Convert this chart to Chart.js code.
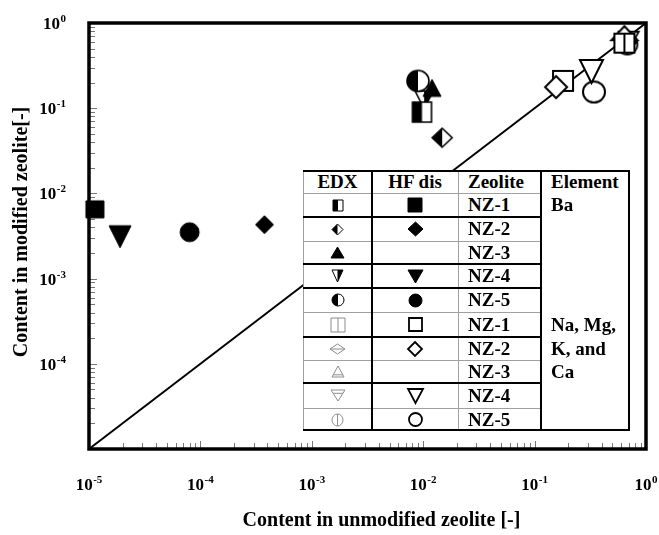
<!DOCTYPE html>
<html><head><meta charset="utf-8">
<script src="https://cdn.jsdelivr.net/npm/chart.js@4.4.0/dist/chart.umd.min.js"></script>
<style>
html,body{margin:0;padding:0;background:#fff;}
#wrap{position:relative;width:659px;height:535px;overflow:hidden;}
#c{position:absolute;left:0;top:0;}
#legendBox{position:absolute;left:303px;top:170px;width:327px;height:261px;background:#fff;
  font-family:'Liberation Serif','Times New Roman',serif;font-weight:bold;font-size:19px;color:#000;}
#legendBox .ln{position:absolute;}
#legendBox .tx{position:absolute;white-space:nowrap;}
#legendBox canvas{position:absolute;}
</style></head>
<body><div id="wrap"><canvas id="c" width="659" height="535"></canvas><div id="legendBox"></div></div>
<script>
// ---------------- data ----------------
// HF dissolution, Ba   [x = unmodified, y = modified]
const hfBaNZ1 = [[1.13e-5, 6.5e-3]];
const hfBaNZ2 = [[3.76e-4, 4.3e-3]];
const hfBaNZ4 = [[1.9e-5, 3.1e-3]];
const hfBaNZ5 = [[8.0e-5, 3.5e-3]];
// EDX, Ba
const edxBaNZ1 = [[9.75e-3, 0.090]];
const edxBaNZ2 = [[0.0148, 0.045]];
const edxBaNZ3 = [[0.012, 0.173]];
const edxBaNZ4 = [[0.0102, 0.125]];
const edxBaNZ5 = [[8.97e-3, 0.209]];
// HF dissolution, Na, Mg, K and Ca
const hfNaNZ1 = [[0.18, 0.209]];
const hfNaNZ2 = [[0.156, 0.177]];
const hfNaNZ4 = [[0.324, 0.27]];
const hfNaNZ5 = [[0.341, 0.155]];
// EDX, Na, Mg, K and Ca
const edxNaNZ1 = [[0.64, 0.58]];
const edxNaNZ2 = [[0.66, 0.60]];
const edxNaNZ3 = [[0.64, 0.76]];
const edxNaNZ4 = [[0.70, 0.62]];
const edxNaNZ5 = [[0.68, 0.56]];
// y = x reference line
const parityLine = [[1e-5, 1e-5], [1, 1]];

// axes / ticks
const axisMin = 1e-5, axisMax = 1;
const xTickExps = [-5, -4, -3, -2, -1, 0];
const xTickExpText = ['-5', '-4', '-3', '-2', '-1', '0'];
const yTickExps = [-4, -3, -2, -1, 0];
const yTickExpText = ['-4', '-3', '-2', '-1', '0'];
const tickBase = '10';
const xTitle = 'Content in unmodified zeolite [-]';
const yTitle = 'Content in modified zeolite[-]';

// legend table
const legendHeaders = ['EDX', 'HF dis', 'Zeolite', 'Element'];
const legendZeolites = ['NZ-1', 'NZ-2', 'NZ-3', 'NZ-4', 'NZ-5', 'NZ-1', 'NZ-2', 'NZ-3', 'NZ-4', 'NZ-5'];
const legendElements = ['Ba', '', '', '', '', 'Na, Mg,', 'K, and', 'Ca', '', ''];

// ---------------- marker drawing ----------------
function pathShape(ctx, shape, cx, cy, w, h) {
  const hw = w / 2, hh = h / 2;
  ctx.beginPath();
  if (shape === 'square') ctx.rect(cx - hw, cy - hh, w, h);
  else if (shape === 'diamond') { ctx.moveTo(cx, cy - hh); ctx.lineTo(cx + hw, cy); ctx.lineTo(cx, cy + hh); ctx.lineTo(cx - hw, cy); ctx.closePath(); }
  else if (shape === 'triUp') { ctx.moveTo(cx, cy - hh); ctx.lineTo(cx + hw, cy + hh); ctx.lineTo(cx - hw, cy + hh); ctx.closePath(); }
  else if (shape === 'triDown') { ctx.moveTo(cx - hw, cy - hh); ctx.lineTo(cx + hw, cy - hh); ctx.lineTo(cx, cy + hh); ctx.closePath(); }
  else if (shape === 'circle') ctx.ellipse(cx, cy, hw, hh, 0, 0, Math.PI * 2);
}
function makeMarker(shape, w, h, fill, lw, color, divider, divPos) {
  color = color || '#000'; lw = lw || 1.5;
  const pad = Math.ceil(lw) + 1;
  const cw = Math.ceil(w + 2 * pad), ch = Math.ceil(h + 2 * pad);
  const cv = document.createElement('canvas'); cv.width = cw; cv.height = ch;
  const ctx = cv.getContext('2d');
  const cx = cw / 2, cy = ch / 2;
  pathShape(ctx, shape, cx, cy, w, h); ctx.fillStyle = '#fff'; ctx.fill();
  if (fill === 'full') { ctx.fillStyle = color; ctx.fill(); }
  else if (fill === 'left' || fill === 'right') {
    ctx.save(); ctx.beginPath();
    if (fill === 'left') ctx.rect(0, 0, cx, ch); else ctx.rect(cx, 0, cw - cx, ch);
    ctx.clip(); pathShape(ctx, shape, cx, cy, w, h); ctx.fillStyle = color; ctx.fill(); ctx.restore();
  }
  if (divider) {
    ctx.save(); pathShape(ctx, shape, cx, cy, w, h); ctx.clip(); ctx.beginPath();
    if (divider === 'v') { ctx.moveTo(cx, 0); ctx.lineTo(cx, ch); }
    else { const yy = cy + (divPos || 0) * h; ctx.moveTo(0, yy); ctx.lineTo(cw, yy); }
    ctx.lineWidth = lw; ctx.strokeStyle = color; ctx.stroke(); ctx.restore();
  }
  pathShape(ctx, shape, cx, cy, w, h); ctx.lineWidth = lw; ctx.strokeStyle = color; ctx.stroke();
  return cv;
}

// chart markers
const mk = {
  hfBaNZ1: makeMarker('square', 18, 17, 'full', 1),
  hfBaNZ2: makeMarker('diamond', 18, 18, 'full', 1),
  hfBaNZ4: makeMarker('triDown', 22, 22, 'full', 1),
  hfBaNZ5: makeMarker('circle', 19, 19, 'full', 1),
  edxBaNZ1: makeMarker('square', 19, 20, 'left', 1.6),
  edxBaNZ2: makeMarker('diamond', 20, 19, 'left', 1.6),
  edxBaNZ3: makeMarker('triUp', 18, 17, 'full', 1),
  edxBaNZ4: makeMarker('triDown', 18, 18, 'right', 1.6),
  edxBaNZ5: makeMarker('circle', 22, 21, 'left', 1.6),
  hfNaNZ1: makeMarker('square', 20, 20, 'none', 2),
  hfNaNZ2: makeMarker('diamond', 22, 22, 'none', 2),
  hfNaNZ4: makeMarker('triDown', 23, 23, 'none', 2),
  hfNaNZ5: makeMarker('circle', 22, 21, 'none', 2),
  edxNaNZ1: makeMarker('square', 20, 19, 'none', 2, '#000', 'v'),
  edxNaNZ2: makeMarker('diamond', 22, 20, 'none', 1.8, '#000', 'h', 0),
  edxNaNZ3: makeMarker('triUp', 26, 14, 'none', 2, '#000'),
  edxNaNZ4: makeMarker('triDown', 20, 18, 'none', 1.8, '#000', 'h', -0.2),
  edxNaNZ5: makeMarker('circle', 20, 20, 'none', 1.8, '#000', 'v')
};
// legend markers
const G = '#8c8c8c';
const lgEdx = [
  makeMarker('square', 10, 11, 'left', 1), makeMarker('diamond', 11, 11, 'left', 1),
  makeMarker('triUp', 13, 11, 'full', 1), makeMarker('triDown', 11, 12, 'right', 1),
  makeMarker('circle', 12, 12, 'left', 1), makeMarker('square', 14, 14, 'none', 1, G, 'v'),
  makeMarker('diamond', 15, 10, 'none', 1, G, 'h', 0), makeMarker('triUp', 12, 11, 'none', 1, G, 'h', 0.3),
  makeMarker('triDown', 14, 11, 'none', 1, G, 'h', -0.2), makeMarker('circle', 11, 12, 'none', 1, G, 'v')
];
const lgHf = [
  makeMarker('square', 14, 14, 'full', 1), makeMarker('diamond', 15, 14, 'full', 1), null,
  makeMarker('triDown', 15, 13, 'full', 1), makeMarker('circle', 13, 13, 'full', 1),
  makeMarker('square', 13, 13, 'none', 1.8), makeMarker('diamond', 14, 14, 'none', 1.8), null,
  makeMarker('triDown', 15, 14, 'none', 1.8), makeMarker('circle', 13, 13, 'none', 1.8)
];

// ---------------- legend table (absolute layout) ----------------
(function buildTable() {
  const box = document.getElementById('legendBox');
  const W = 327;
  const colX = [0, 69, 155, 238, 327];
  const rowY = [0, 23, 47, 71, 94, 118, 142, 167, 190, 213, 238, 261];
  const BLK = '#000', GRY = '#a0a0a0';
  function hline(y, x0, x1, th, col) {
    const d = document.createElement('div'); d.className = 'ln';
    d.style.left = x0 + 'px'; d.style.width = (x1 - x0) + 'px';
    d.style.top = (y - th / 2) + 'px'; d.style.height = th + 'px'; d.style.background = col; box.appendChild(d);
  }
  function vline(x, y0, y1, th, col) {
    const d = document.createElement('div'); d.className = 'ln';
    d.style.top = y0 + 'px'; d.style.height = (y1 - y0) + 'px';
    d.style.left = (x - th / 2) + 'px'; d.style.width = th + 'px'; d.style.background = col; box.appendChild(d);
  }
  const ruleKinds = [null, 'g', 'b', 'g', 'b', 'b', 'g', 'b', 'g', 'b', 'g', null];
  for (let i = 1; i < rowY.length - 1; i++) {
    if (ruleKinds[i] === 'g') hline(rowY[i], colX[0], colX[3], 1, GRY);
  }
  vline(colX[0] + 0.5, rowY[0], rowY[11], 1, GRY);
  vline(colX[2], rowY[0], rowY[11], 1, GRY);
  for (let i = 1; i < rowY.length - 1; i++) {
    if (ruleKinds[i] === 'b') hline(rowY[i], colX[0], colX[3], 2, BLK);
  }
  vline(colX[1], rowY[0], rowY[11], 2, BLK);
  vline(colX[3], rowY[0], rowY[11], 2, BLK);
  vline(colX[4] - 1, rowY[0], rowY[11], 2, BLK);
  hline(rowY[0] + 1, 0, W, 2, BLK);
  hline(rowY[11] - 1, 0, W, 2, BLK);

  function text(str, r, x, align, w) {
    const d = document.createElement('div'); d.className = 'tx'; d.textContent = str;
    const h = rowY[r + 1] - rowY[r];
    d.style.top = rowY[r] + 'px'; d.style.height = h + 'px'; d.style.lineHeight = h + 'px';
    if (align === 'center') { d.style.left = x + 'px'; d.style.width = w + 'px'; d.style.textAlign = 'center'; }
    else d.style.left = x + 'px';
    box.appendChild(d);
  }
  function sym(cv, r, c) {
    if (!cv) return;
    const cx = (colX[c] + colX[c + 1]) / 2, cy = (rowY[r] + rowY[r + 1]) / 2;
    cv.style.left = Math.round(cx - cv.width / 2) + 'px';
    cv.style.top = Math.round(cy - cv.height / 2) + 'px';
    box.appendChild(cv);
  }
  text(legendHeaders[0], 0, colX[0], 'center', colX[1] - colX[0]);
  text(legendHeaders[1], 0, colX[1], 'center', colX[2] - colX[1]);
  text(legendHeaders[2], 0, colX[2] + 10, 'left');
  text(legendHeaders[3], 0, colX[3] + 10, 'left');
  for (let i = 0; i < legendZeolites.length; i++) {
    sym(lgEdx[i], i + 1, 0);
    sym(lgHf[i], i + 1, 1);
    text(legendZeolites[i], i + 1, colX[2] + 10, 'left');
    if (legendElements[i]) text(legendElements[i], i + 1, colX[3] + 10, 'left');
  }
})();

// ---------------- chart ----------------
const toXY = a => a.map(p => ({ x: p[0], y: p[1] }));
function ds(label, arr, style, order) {
  return { type: 'scatter', label: label, data: toXY(arr), pointStyle: style, pointRadius: 6, pointHoverRadius: 6,
    showLine: false, clip: false, order: order };
}
const datasets = [
  ds('EDX Ba NZ-3', edxBaNZ3, mk.edxBaNZ3, 1),
  ds('EDX Ba NZ-1', edxBaNZ1, mk.edxBaNZ1, 2),
  ds('EDX Ba NZ-5', edxBaNZ5, mk.edxBaNZ5, 3),
  ds('EDX Ba NZ-4', edxBaNZ4, mk.edxBaNZ4, 4),
  ds('EDX Ba NZ-2', edxBaNZ2, mk.edxBaNZ2, 5),
  ds('HF Ba NZ-1', hfBaNZ1, mk.hfBaNZ1, 6),
  ds('HF Ba NZ-2', hfBaNZ2, mk.hfBaNZ2, 7),
  ds('HF Ba NZ-4', hfBaNZ4, mk.hfBaNZ4, 8),
  ds('HF Ba NZ-5', hfBaNZ5, mk.hfBaNZ5, 9),
  ds('HF Na NZ-2', hfNaNZ2, mk.hfNaNZ2, 10),
  ds('HF Na NZ-1', hfNaNZ1, mk.hfNaNZ1, 11),
  ds('HF Na NZ-4', hfNaNZ4, mk.hfNaNZ4, 12),
  ds('HF Na NZ-5', hfNaNZ5, mk.hfNaNZ5, 13),
  ds('EDX Na NZ-1', edxNaNZ1, mk.edxNaNZ1, 14),
  ds('EDX Na NZ-3', edxNaNZ3, mk.edxNaNZ3, 15),
  ds('EDX Na NZ-2', edxNaNZ2, mk.edxNaNZ2, 16),
  ds('EDX Na NZ-5', edxNaNZ5, mk.edxNaNZ5, 17),
  ds('EDX Na NZ-4', edxNaNZ4, mk.edxNaNZ4, 18),
  { type: 'line', label: 'y = x', data: toXY(parityLine), borderColor: '#000', borderWidth: 2, pointRadius: 0,
    fill: false, order: 50, clip: false }
];

function buildLogTicks(scale) {
  const t = [];
  for (let e = Math.round(Math.log10(axisMin)); e < Math.round(Math.log10(axisMax)); e++) {
    for (let m = 1; m < 10; m++) t.push({ value: m * Math.pow(10, e) });
  }
  t.push({ value: axisMax });
  scale.ticks = t;
}
function expOf(v) { const l = Math.log10(v); const r = Math.round(l); return Math.abs(l - r) < 1e-6 ? r : null; }
const SERIF = "'Liberation Serif','Times New Roman',serif";
const titleFontX = { family: SERIF, weight: 'bold', size: 20 };
const titleFontY = { family: SERIF, weight: 'bold', size: 20 };

const framePlugin = {
  id: 'frame',
  beforeDatasetsDraw(chart) {
    const { ctx, chartArea: a, scales } = chart;
    ctx.save();
    ctx.strokeStyle = '#777'; ctx.lineWidth = 1;
    scales.x.ticks.forEach(t => {
      const px = Math.round(scales.x.getPixelForValue(t.value)) + 0.5;
      const len = expOf(t.value) !== null ? 6 : 4;
      ctx.beginPath(); ctx.moveTo(px, a.bottom); ctx.lineTo(px, a.bottom - len - 2); ctx.stroke();
    });
    scales.y.ticks.forEach(t => {
      const py = Math.round(scales.y.getPixelForValue(t.value)) + 0.5;
      const len = expOf(t.value) !== null ? 6 : 4;
      ctx.beginPath(); ctx.moveTo(a.left, py); ctx.lineTo(a.left + len + 2, py); ctx.stroke();
    });
    ctx.strokeStyle = '#000'; ctx.lineWidth = 3.5;
    ctx.strokeRect(a.left, a.top, a.right - a.left, a.bottom - a.top);
    ctx.restore();
  },
  afterDraw(chart) {
    // power-of-ten tick labels with real superscript exponents
    const { ctx, scales } = chart;
    ctx.save();
    ctx.fillStyle = '#000'; ctx.textBaseline = 'alphabetic'; ctx.textAlign = 'left';
    const baseFont = 'bold 17px ' + SERIF, expFont = 'bold 11px ' + SERIF;
    function draw(label, exp, xLeft, baseline) {
      ctx.font = baseFont; const wb = ctx.measureText(label).width;
      ctx.fillText(label, xLeft, baseline);
      ctx.font = expFont; ctx.fillText(exp, xLeft + wb + 0.5, baseline - 7);
    }
    function width(label, exp) {
      ctx.font = baseFont; const wb = ctx.measureText(label).width;
      ctx.font = expFont; return wb + 0.5 + ctx.measureText(exp).width;
    }
    xTickExps.forEach((e, i) => {
      const px = scales.x.getPixelForValue(Math.pow(10, e));
      const w = width(tickBase, xTickExpText[i]);
      draw(tickBase, xTickExpText[i], px - w / 2, scales.x.top + 41);
    });
    yTickExps.forEach((e, i) => {
      const py = scales.y.getPixelForValue(Math.pow(10, e));
      const w = width(tickBase, yTickExpText[i]);
      draw(tickBase, yTickExpText[i], 66 - w, py + 6);
    });
    ctx.restore();
  }
};

// the x-axis title in the source sits a little right of the plot centre
function shiftTitle(scale, dx, dy) {
  if (scale._titleShifted) return;
  const orig = scale.drawTitle;
  scale.drawTitle = function () { this.ctx.save(); this.ctx.translate(dx, dy); orig.call(this); this.ctx.restore(); };
  scale._titleShifted = true;
}

new Chart(document.getElementById('c'), {
  data: { datasets: datasets },
  plugins: [framePlugin],
  options: {
    responsive: false, animation: false, devicePixelRatio: 1, events: [],
    layout: { padding: { top: 23, right: 13, bottom: 0, left: 0 } },
    plugins: { legend: { display: false }, tooltip: { enabled: false } },
    scales: {
      x: {
        type: 'logarithmic', position: 'bottom', min: axisMin, max: axisMax,
        afterBuildTicks: buildLogTicks,
        afterFit(s) { s.height = 86; s.paddingLeft = 0; s.paddingRight = 0; shiftTitle(s, 14, 0); },
        grid: { display: false, drawTicks: false }, border: { display: false },
        ticks: { display: false, autoSkip: false, maxRotation: 0, minRotation: 0 },
        title: { display: true, text: xTitle, color: '#000', font: titleFontX, padding: { top: 0, bottom: 2 } }
      },
      y: {
        type: 'logarithmic', position: 'left', min: axisMin, max: axisMax,
        afterBuildTicks: buildLogTicks,
        afterFit(s) { s.width = 89; s.paddingTop = 0; s.paddingBottom = 0; shiftTitle(s, 0, -4); },
        grid: { display: false, drawTicks: false }, border: { display: false },
        ticks: { display: false, autoSkip: false },
        title: { display: true, text: yTitle, color: '#000', font: titleFontY, padding: { top: 10, bottom: 0 } }
      }
    }
  }
});
</script></body></html>
